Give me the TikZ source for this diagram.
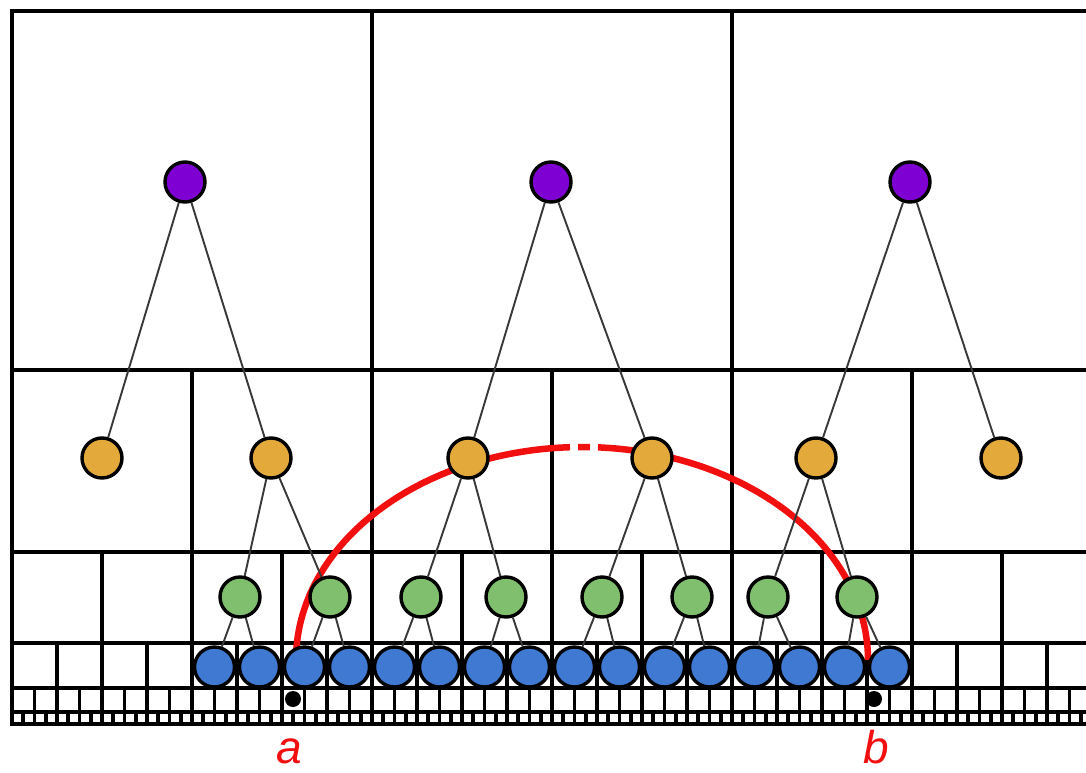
\documentclass[tikz,border=0pt]{standalone}
\usepackage{fontspec}
\setmainfont{Liberation Sans}
\pgfdeclarelayer{background}
\pgfsetlayers{background,main}
\definecolor{lvlA}{HTML}{7E00D2}
\definecolor{lvlB}{HTML}{E3A93A}
\definecolor{lvlC}{HTML}{80BF6E}
\definecolor{lvlD}{HTML}{4079D2}
\definecolor{arcred}{HTML}{F20F0F}
\tikzset{
  cell/.style={draw=black, line width=3.6pt},
  treenode/.style={circle, draw=black, line width=3.4pt, minimum size=40pt, inner sep=0pt},
  pnode/.style={treenode, fill=lvlA},
  onode/.style={treenode, fill=lvlB},
  gnode/.style={treenode, fill=lvlC},
  bnode/.style={treenode, fill=lvlD},
  link/.style={draw=black!78, line width=1.9pt},
  span/.style={draw=arcred, line width=6.5pt},
  endpt/.style={circle, fill=black, inner sep=0pt, minimum size=16pt},
  endlabel/.style={text=arcred, font=\fontsize{46}{46}\selectfont\itshape, inner sep=0pt}
}
\begin{document}
\begin{tikzpicture}[x=1pt, y=-1pt]
\useasboundingbox (0,0) rectangle (1086,773);

% tree nodes
\node[pnode] (p0) at (185,182) {};
\node[pnode] (p1) at (551,182) {};
\node[pnode] (p2) at (910,182) {};
\foreach \x [count=\j from 0] in {102,271,468,652,816,1001}
  \node[onode] (o\j) at (\x,458) {};
\foreach \x [count=\j from 0] in {240,330,421,506,602,692,768,857}
  \node[gnode] (g\j) at (\x,597) {};
\foreach \i in {0,...,15}
  \node[bnode] (b\i) at (214.5+45*\i,667) {};

% interval end points and labels
\node[endpt] (ea) at (293,699) {};
\node[endpt] (eb) at (874,699) {};
\node[endlabel, anchor=base] (la) at (289,763) {a};
\node[endlabel, anchor=base] (lb) at (876,763) {b};

\begin{pgfonlayer}{background}
  \fill[white] (0,0) rectangle (1086,773);
  % hierarchical grid of cells, clipped at the right edge
  \begin{scope}
    \clip (0,0) rectangle (1086,773);
    \foreach \k/\ya/\yb in {0/11/370, 1/370/552, 2/552/643, 3/643/688, 4/688/712, 5/712/724} {
      \pgfmathsetmacro\w{360/2^\k}
      \pgfmathtruncatemacro\n{3*2^\k-1}
      \foreach \i in {0,...,\n}
        \draw[cell] (12+\i*\w,\ya) rectangle (12+\i*\w+\w,\yb);
    }
  \end{scope}

  % range arc between the two end points, broken at the top
  \draw[span] plot[domain=180:92.4, samples=80] ({582+286*cos(\x)},{660-213*sin(\x)});
  \draw[span] plot[domain=90.8:88.4, samples=5] ({582+286*cos(\x)},{660-213*sin(\x)});
  \draw[span] plot[domain=86.8:0, samples=80] ({582+286*cos(\x)},{660-213*sin(\x)});

  % tree links
  \draw[link] (p0) -- (o0);
  \draw[link] (p0) -- (o1);
  \draw[link] (p1) -- (o2);
  \draw[link] (p1) -- (o3);
  \draw[link] (p2) -- (o4);
  \draw[link] (p2) -- (o5);
  \draw[link] (o1) -- (g0);
  \draw[link] (o1) -- (g1);
  \draw[link] (o2) -- (g2);
  \draw[link] (o2) -- (g3);
  \draw[link] (o3) -- (g4);
  \draw[link] (o3) -- (g5);
  \draw[link] (o4) -- (g6);
  \draw[link] (o4) -- (g7);
  \foreach \j in {0,...,7} {
    \pgfmathtruncatemacro\l{2*\j}
    \pgfmathtruncatemacro\r{2*\j+1}
    \draw[link] (g\j) -- (b\l);
    \draw[link] (g\j) -- (b\r);
  }
\end{pgfonlayer}
\end{tikzpicture}
\end{document}
